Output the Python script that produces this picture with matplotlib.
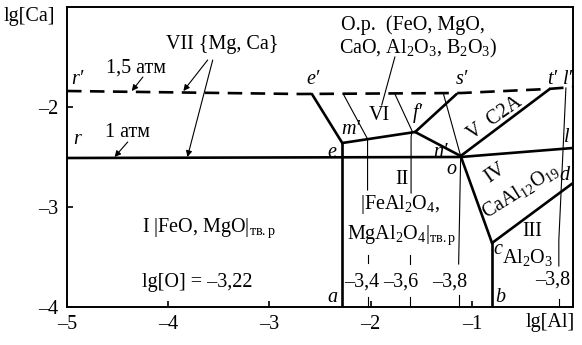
import matplotlib
matplotlib.use("Agg")
import matplotlib.pyplot as plt

plt.rcParams['font.family'] = ['Liberation Serif', 'DejaVu Serif']
plt.rcParams['mathtext.fontset'] = 'custom'
plt.rcParams['mathtext.rm'] = 'Liberation Serif'
plt.rcParams['mathtext.it'] = 'Liberation Serif:italic'
plt.rcParams['mathtext.default'] = 'rm'

# ---- data (lg[Al], lg[Ca]) ----
xticks = [-5, -4, -3, -2, -1]
xticklabels = ['–5', '–4', '–3', '–2', '–1']
yticks = [-4, -3, -2]
yticklabels = ['–4', '–3', '–2']

# VII boundary at 1.5 atm (dashed r')
r15_x = [-5.0, -2.7, -1.1, -0.25, 0.0]
r15_y = [-1.84, -1.87, -1.86, -1.82, -1.80]
# VII boundary at 1 atm (solid r)
r1_x = [-5.0, -1.11, 0.0]
r1_y = [-2.51, -2.50, -2.41]

# thick phase boundaries
line_ae_x = [-2.28, -2.28];   line_ae_y = [-4.0, -2.36]
line_ee_x = [-2.58, -2.28];   line_ee_y = [-1.87, -2.36]
line_ef_x = [-2.28, -1.56];   line_ef_y = [-2.36, -2.25]
line_fs_x = [-1.56, -1.15];   line_fs_y = [-2.25, -1.87]
line_fo_x = [-1.56, -1.11];   line_fo_y = [-2.25, -2.49]
line_ot_x = [-1.11, -0.23];   line_ot_y = [-2.49, -1.82]
line_oc_x = [-1.11, -0.80];   line_oc_y = [-2.49, -3.36]
line_cb_x = [-0.80, -0.80];   line_cb_y = [-3.36, -4.0]
line_cd_x = [-0.80, 0.0];     line_cd_y = [-3.36, -2.76]

# lg[O] iso-lines (thin), each drawn as separate segments
iso34_segments = [([-2.27, -2.03, -2.03], [-1.87, -2.32, -2.83]),
                  ([-2.03, -2.03], [-3.48, -3.56]),
                  ([-2.03, -2.03], [-3.90, -4.0])]
iso36_segments = [([-1.76, -1.59, -1.60, -1.60], [-1.87, -2.24, -2.30, -2.86]),
                  ([-1.61, -1.61], [-3.48, -3.57]),
                  ([-1.61, -1.61], [-3.90, -4.0])]
iso38a_segments = [([-1.28, -1.11, -1.13], [-1.87, -2.49, -3.57]),
                   ([-1.13, -1.13], [-3.88, -4.0])]
iso38b_segments = [([-0.07, -0.14, -0.14], [-1.81, -3.33, -3.59]),
                   ([-0.14, -0.14], [-3.92, -4.0])]

fig = plt.figure(figsize=(5.82, 3.45), dpi=100)
ax = fig.add_axes([67/582, 1-307/345, (573-67)/582, (307-7)/345])
ax.set_xlim(-5, 0)
ax.set_ylim(-4, -1)
for s in ax.spines.values():
    s.set_linewidth(1.4)
ax.set_xticks(xticks)
ax.set_xticklabels(xticklabels)
ax.set_yticks(yticks)
ax.set_yticklabels(yticklabels)
ax.tick_params(direction='in', length=4, width=1.2, labelsize=14.5, pad=6)

THICK = 1.9
THIN = 0.8
ax.plot(r15_x, r15_y, color='black', lw=THICK, ls=(0, (5.5, 3.2)))
ax.plot(r1_x, r1_y, color='black', lw=THICK)
for xs, ys in [(line_ae_x, line_ae_y), (line_ee_x, line_ee_y), (line_ef_x, line_ef_y),
               (line_fs_x, line_fs_y), (line_fo_x, line_fo_y), (line_ot_x, line_ot_y),
               (line_oc_x, line_oc_y), (line_cb_x, line_cb_y), (line_cd_x, line_cd_y)]:
    ax.plot(xs, ys, color='black', lw=THICK, solid_capstyle='round')
for segs in [iso34_segments, iso36_segments, iso38a_segments, iso38b_segments]:
    for xs, ys in segs:
        ax.plot(xs, ys, color='black', lw=THIN)

FS = 14.5
def T(x, y, s, **kw):
    kw.setdefault('fontsize', FS)
    kw.setdefault('ha', 'center')
    kw.setdefault('va', 'center')
    ax.text(x, y, s, **kw)

def I(x, y, s, **kw):
    T(x, y, s, style='italic', **kw)

# axis names
T(-5.37, -1.09, 'lg[Ca]', clip_on=False)
T(0.02, -4.15, 'lg[Al]', ha='right', va='center', clip_on=False)

# VII and pressure labels
T(-3.47, -1.38, 'VII {Mg, Ca}')
T(-4.32, -1.61, '1,5 атм')
T(-4.40, -2.26, '1 атм')
I(-4.90, -1.73, "r′")
I(-4.90, -2.33, "r")
arrow = dict(arrowstyle='-|>', lw=0.8, color='black', mutation_scale=9, shrinkA=0, shrinkB=0)
ax.annotate('', xy=(-3.85, -1.84), xytext=(-3.61, -1.53), arrowprops=arrow)
ax.annotate('', xy=(-3.81, -2.50), xytext=(-3.56, -1.53), arrowprops=arrow)
ax.annotate('', xy=(-4.36, -1.84), xytext=(-4.25, -1.70), arrowprops=arrow)
ax.annotate('', xy=(-4.53, -2.50), xytext=(-4.40, -2.35), arrowprops=arrow)

# oxide melt label
T(-1.58, -1.18, 'О.р.  (FeO, MgO,')
T(-1.53, -1.41, r'CaO, Al$_2$O$_3$, B$_2$O$_3$)')
ax.plot([-1.76, -1.89], [-1.50, -1.98], color='black', lw=THIN)

# point letters
I(-2.57, -1.73, "e′")
I(-1.10, -1.73, "s′")
I(-0.21, -1.73, "t′")
I(-0.05, -1.73, "l′")
I(-1.53, -2.06, "f′")
I(-2.20, -2.23, "m′")
I(-2.38, -2.45, "e")
I(-1.31, -2.45, "n′")
I(-1.20, -2.63, "o")
I(-0.06, -2.31, "l")
I(-0.08, -2.68, "d")
I(-0.74, -3.43, "c")
I(-0.72, -3.90, "b")
I(-2.38, -3.90, "a")

# region labels
T(-1.91, -2.08, 'VI')
T(-0.77, -2.11, 'V  C2A', rotation=35)
T(-0.77, -2.66, 'IV', rotation=35)
T(-0.52, -2.84, r'CaAl$_{12}$O$_{19}$', rotation=32)
T(-0.40, -3.25, 'III')
T(-0.45, -3.51, r'Al$_2$O$_3$')
T(-1.69, -2.73, 'II')
T(-1.71, -2.98, r'|FeAl$_2$O$_4$,')
T(-1.69, -3.28, r'MgAl$_2$O$_4$|$_{\mathrm{тв.р}}$')
T(-4.26, -3.21, r'I |FeO, MgO|$_{\mathrm{тв.р}}$', ha='left')
T(-4.26, -3.75, 'lg[O] = –3,22', ha='left')

# iso-line values
T(-2.09, -3.75, '–3,4')
T(-1.70, -3.75, '–3,6')
T(-1.22, -3.75, '–3,8')
T(-0.20, -3.73, '–3,8')

fig.savefig('out.png', dpi=100)
